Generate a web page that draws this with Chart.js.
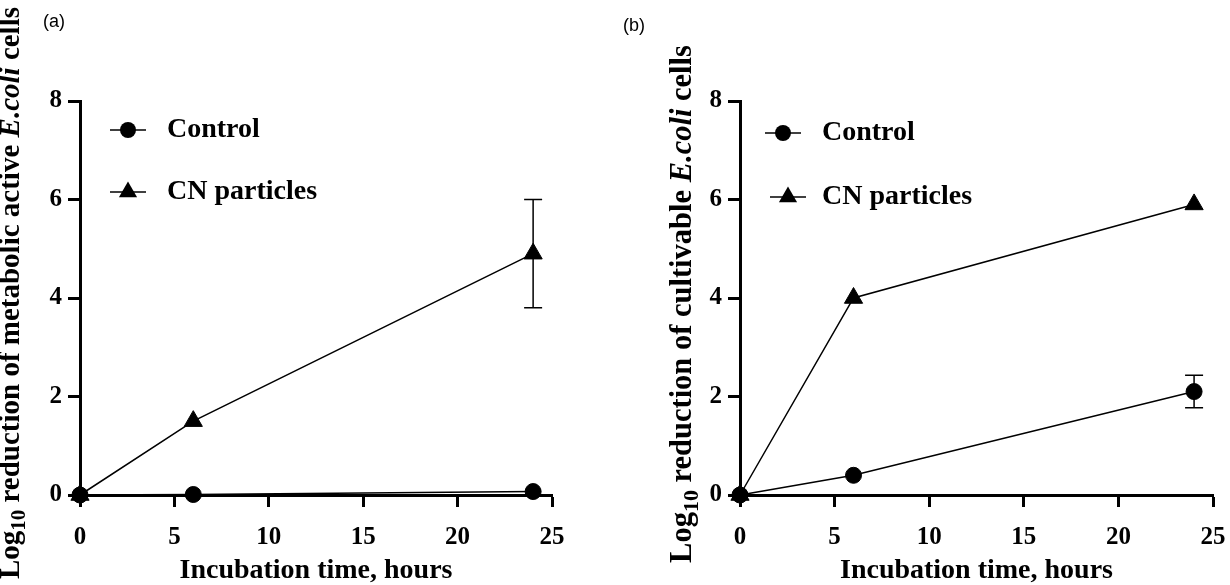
<!DOCTYPE html>
<html>
<head>
<meta charset="utf-8">
<title>E.coli reduction</title>
<script src="https://cdn.jsdelivr.net/npm/chart.js@4/dist/chart.umd.min.js"></script>
<style>
  html, body { margin: 0; padding: 0; background: #fff; }
  #wrap { position: relative; width: 1230px; height: 585px; overflow: hidden; }
  .panel { position: absolute; top: 0; width: 615px; height: 585px; }
  .tag { position: absolute; font: 18px "Liberation Sans", Arial, sans-serif; color: #000; }
</style>
</head>
<body>
<div id="wrap">
  <div class="panel" style="left:0"><canvas id="chartA" width="615" height="585"></canvas></div>
  <div class="panel" style="left:615px"><canvas id="chartB" width="615" height="585"></canvas></div>
  <div class="tag" style="left:43px;top:11px">(a)</div>
  <div class="tag" style="left:623px;top:15px">(b)</div>
</div>
<script>
// sampling times and ticks
var hours = [0, 6, 24];
var xTicks = [0, 5, 10, 15, 20, 25];
var yTicks = [0, 2, 4, 6, 8];
var seriesNames = ['Control', 'CN particles'];

// (a) metabolic active cells
var activeControl = [0, 0.01, 0.07];
var activeControlErr = [0, 0, 0];
var activeCN = [0, 1.5, 4.9];
var activeCNErr = [0, 0, 1.1];

// (b) cultivable cells
var cultControl = [0, 0.4, 2.1];
var cultControlErr = [0, 0, 0.33];
var cultCN = [0, 4.0, 5.9];
var cultCNErr = [0, 0, 0];

var SERIF = '"Liberation Serif", "Times New Roman", serif';

function toPoints(vals) {
    return hours.map(function(h, i) { return {x: h, y: vals[i]}; });
}

function makeDataset(label, vals, errs, style, radius) {
    return {
        label: label,
        data: toPoints(vals),
        errors: errs,
        borderColor: '#000',
        backgroundColor: '#000',
        borderWidth: 1.5,
        pointStyle: style,
        pointRadius: radius,
        pointHoverRadius: radius,
        pointBorderWidth: 1,
        pointBackgroundColor: '#000',
        pointBorderColor: '#000',
        tension: 0,
        clip: false
    };
}

// error bars, drawn through the chart scales
var errorBars = {
    id: 'errorBars',
    afterDatasetsDraw: function(chart) {
        var ctx = chart.ctx;
        var yScale = chart.scales.y;
        ctx.save();
        ctx.strokeStyle = '#000';
        ctx.lineWidth = 1.5;
        chart.data.datasets.forEach(function(ds, i) {
            var meta = chart.getDatasetMeta(i);
            ds.errors.forEach(function(e, j) {
                if (!e) return;
                var x = meta.data[j].x;
                var v = ds.data[j].y;
                var top = yScale.getPixelForValue(v + e);
                var bot = yScale.getPixelForValue(v - e);
                ctx.beginPath();
                ctx.moveTo(x, top); ctx.lineTo(x, bot);
                ctx.moveTo(x - 9, top); ctx.lineTo(x + 9, top);
                ctx.moveTo(x - 9, bot); ctx.lineTo(x + 9, bot);
                ctx.stroke();
            });
        });
        ctx.restore();
    }
};

function drawMarker(ctx, style, x, y, r) {
    ctx.beginPath();
    if (style === 'triangle') {
        ctx.moveTo(x, y - r);
        ctx.lineTo(x + r * Math.sin(Math.PI / 3), y + r / 2);
        ctx.lineTo(x - r * Math.sin(Math.PI / 3), y + r / 2);
        ctx.closePath();
    } else {
        ctx.arc(x, y, r, 0, Math.PI * 2);
    }
    ctx.fill();
}

// legend sitting inside the plot area
var innerLegend = {
    id: 'innerLegend',
    afterDraw: function(chart, args, opts) {
        var ctx = chart.ctx;
        ctx.save();
        ctx.fillStyle = '#000';
        ctx.strokeStyle = '#000';
        ctx.lineWidth = 1.5;
        ctx.font = 'bold 28px ' + SERIF;
        ctx.textBaseline = 'middle';
        chart.data.datasets.forEach(function(ds, i) {
            var y = opts.rows[i];
            var mx = opts.markerX[i];
            ctx.beginPath();
            ctx.moveTo(mx - 18, y); ctx.lineTo(mx + 18, y);
            ctx.stroke();
            drawMarker(ctx, ds.pointStyle, mx, y, ds.pointRadius);
            ctx.fillText(ds.label, opts.textX, y);
        });
        ctx.restore();
    }
};

// rotated y title with subscript and italic species name
var yTitle = {
    id: 'yTitle',
    afterDraw: function(chart, args, opts) {
        var ctx = chart.ctx;
        var size = opts.size;
        var parts = opts.parts;
        ctx.save();
        var widths = parts.map(function(p) {
            ctx.font = p.style + ' ' + (p.sub ? size * 0.72 : size) + 'px ' + SERIF;
            return ctx.measureText(p.text).width;
        });
        var total = widths.reduce(function(a, b) { return a + b; }, 0);
        ctx.translate(opts.x, opts.y);
        ctx.rotate(-Math.PI / 2);
        ctx.fillStyle = '#000';
        ctx.textBaseline = 'alphabetic';
        var cx = -total / 2;
        parts.forEach(function(p, i) {
            ctx.font = p.style + ' ' + (p.sub ? size * 0.72 : size) + 'px ' + SERIF;
            ctx.fillText(p.text, cx, p.sub ? size * 0.22 : 0);
            cx += widths[i];
        });
        ctx.restore();
    }
};

function axisOpts(min, max, ticks, pad) {
    return {
        type: 'linear',
        min: min,
        max: max,
        border: {display: true, color: '#000', width: 3},
        grid: {display: true, drawOnChartArea: false, drawTicks: true, tickLength: 12, tickWidth: 3, tickColor: '#000', color: '#000'},
        ticks: {color: '#000', font: {family: SERIF, size: 25, weight: 'bold'}, padding: pad, maxRotation: 0, autoSkip: false},
        afterBuildTicks: function(s) {
            s.ticks = ticks.map(function(v) { return {value: v}; });
        }
    };
}

function buildChart(id, control, controlErr, cn, cnErr, cfg) {
    var xAxis = axisOpts(0, 25, xTicks, 16);
    xAxis.title = {display: true, text: 'Incubation time, hours', color: '#000',
        font: {family: SERIF, size: 28, weight: 'bold', lineHeight: 1}, padding: {top: 0, bottom: 0}};
    xAxis.afterFit = function(s) {
        s.height = 90;
        // the last tick label may run past the edge, as in the original figure
        s.paddingLeft = 0;
        s.paddingRight = 0;
    };
    var yAxis = axisOpts(0, 8, yTicks, 6);
    yAxis.afterFit = function(s) { s.width = cfg.yWidth; };

    return new Chart(document.getElementById(id), {
        type: 'line',
        data: {
            datasets: [
                makeDataset(seriesNames[0], control, controlErr, 'circle', 8),
                makeDataset(seriesNames[1], cn, cnErr, 'triangle', 10.5)
            ]
        },
        options: {
            responsive: false,
            animation: false,
            layout: {padding: {top: 101, right: cfg.padRight, bottom: 0, left: 0}},
            scales: {x: xAxis, y: yAxis},
            plugins: {
                legend: {display: false},
                tooltip: {enabled: false},
                innerLegend: cfg.legend,
                yTitle: cfg.title
            }
        },
        plugins: [errorBars, innerLegend, yTitle]
    });
}

buildChart('chartA', activeControl, activeControlErr, activeCN, activeCNErr, {
    yWidth: 80,
    padRight: 63,
    legend: {markerX: [128, 128], textX: 167, rows: [130, 192]},
    title: {x: 19, y: 293, size: 29, parts: [
        {text: 'Log', style: 'bold'},
        {text: '10', style: 'bold', sub: true},
        {text: ' reduction of metabolic active ', style: 'bold'},
        {text: 'E.coli', style: 'italic bold'},
        {text: ' cells', style: 'bold'}
    ]}
});

buildChart('chartB', cultControl, cultControlErr, cultCN, cultCNErr, {
    yWidth: 125,
    padRight: 17,
    legend: {markerX: [168, 173], textX: 207, rows: [133, 197]},
    title: {x: 76, y: 304, size: 30.5, parts: [
        {text: 'Log', style: 'bold'},
        {text: '10', style: 'bold', sub: true},
        {text: ' reduction of cultivable ', style: 'bold'},
        {text: 'E.coli', style: 'italic bold'},
        {text: ' cells', style: 'bold'}
    ]}
});
</script>
</body>
</html>
